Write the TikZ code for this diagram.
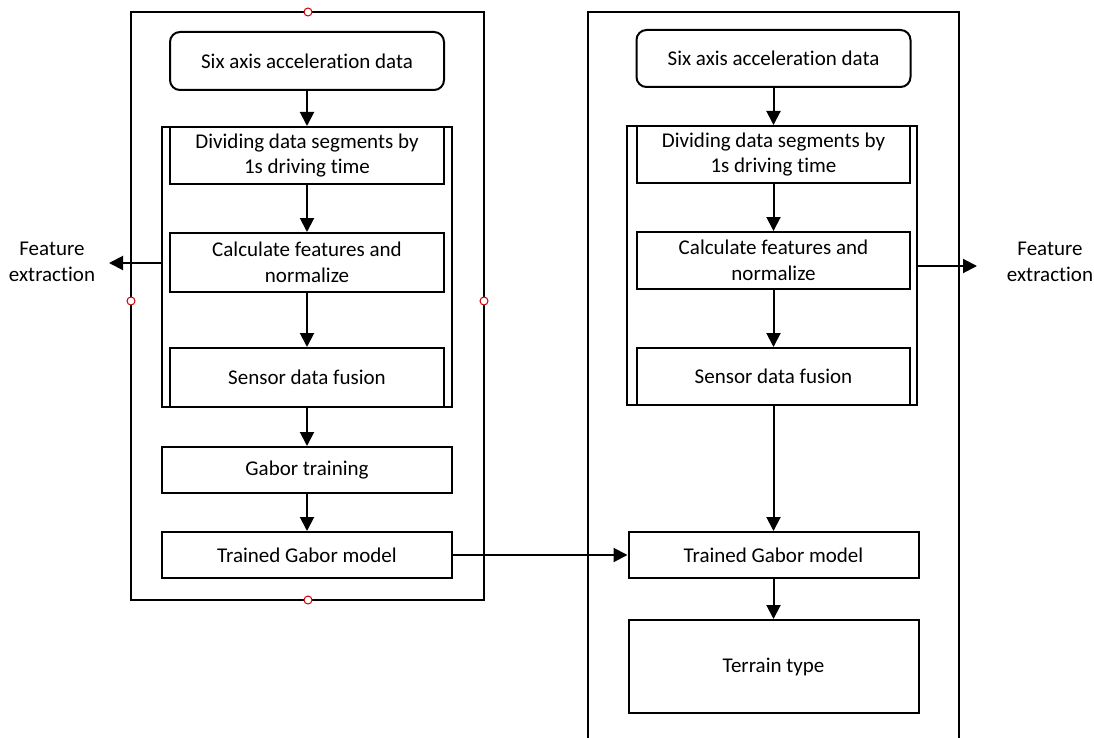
\documentclass[tikz,border=0pt]{standalone}
\usepackage{fontspec}
\setmainfont{Carlito}[Ligatures=NoCommon]
\usetikzlibrary{arrows.meta}

\tikzset{
  blk/.style={draw, line width=2pt, minimum width=274pt, minimum height=57pt, align=center, inner sep=2pt},
  grp/.style={draw, line width=2pt, minimum width=290pt},
  arr/.style={line width=2pt, -{Triangle[length=14pt,width=14pt]}},
  handle/.style={draw=red!80!black, fill=white, line width=1pt, circle, inner sep=0pt, minimum size=8pt}
}

\begin{document}
\begin{tikzpicture}[x=1pt, y=-1pt, font=\fontsize{21}{25.5}\selectfont]
            \useasboundingbox (0,0) rectangle (1094,738);
            % left panel
            \draw[line width=2pt] (131,12) rectangle (484,600);
            \node[grp, minimum height=280pt] (grpL) at (307,267) {};
            \node[blk, rounded corners=10pt, minimum height=58pt] (sixL) at (307,61) {Six axis acceleration data};
            \node[blk] (divL) at (307,155.5) {Dividing data segments by\\1s driving time};
            \node[blk, minimum height=59pt] (calcL) at (307,262.5) {Calculate features and\\normalize};
            \node[blk, minimum height=59pt] (fusL) at (307,377.5) {Sensor data fusion};
            \node[blk, minimum width=290pt, minimum height=46pt] (gabL) at (307,470) {Gabor training};
            \node[blk, minimum width=290pt, minimum height=46pt] (modL) at (307,555) {Trained Gabor model};
            \node[align=center] (featL) at (52,262) {Feature\\extraction};
            \coordinate (tipL) at (109,263);
            \draw[arr] (sixL) -- (divL);
            \draw[arr] (divL) -- (calcL);
            \draw[arr] (calcL) -- (fusL);
            \draw[arr] (fusL) -- (gabL);
            \draw[arr] (gabL) -- (modL);
            \draw[arr] (grpL.west |- tipL) -- (tipL);
            % right panel
            \draw[line width=2pt] (588,745) -- (588,12) -- (959,12) -- (959,745);
            \node[grp, minimum height=279pt] (grpR) at (772,265.5) {};
            \node[blk, rounded corners=10pt] (sixR) at (773.5,58.5) {Six axis acceleration data};
            \node[blk, minimum width=273pt] (divR) at (773.5,154.5) {Dividing data segments by\\1s driving time};
            \node[blk, minimum width=273pt] (calcR) at (773.5,260.5) {Calculate features and\\normalize};
            \node[blk, minimum width=273pt] (fusR) at (773.5,376.5) {Sensor data fusion};
            \node[blk, minimum width=290pt, minimum height=46pt] (modR) at (773.5,555) {Trained Gabor model};
            \node[blk, minimum width=290pt, minimum height=93pt] (terR) at (773.5,666.5) {Terrain type};
            \node[align=center] (featR) at (1050,262) {Feature\\extraction};
            \coordinate (tipR) at (977,266);
            \draw[arr] (sixR) -- (divR);
            \draw[arr] (divR) -- (calcR);
            \draw[arr] (calcR) -- (fusR);
            \draw[arr] (fusR) -- (modR);
            \draw[arr] (modR) -- (terR);
            \draw[arr] (grpR.east |- tipR) -- (tipR);
            % link between panels
            \draw[arr] (modL) -- (modR);
            % selection handles
            \foreach \hx/\hy in {308/12, 131/301, 484/301, 308/600}
              \node[handle] at (\hx,\hy) {};
        \end{tikzpicture}
\end{document}
